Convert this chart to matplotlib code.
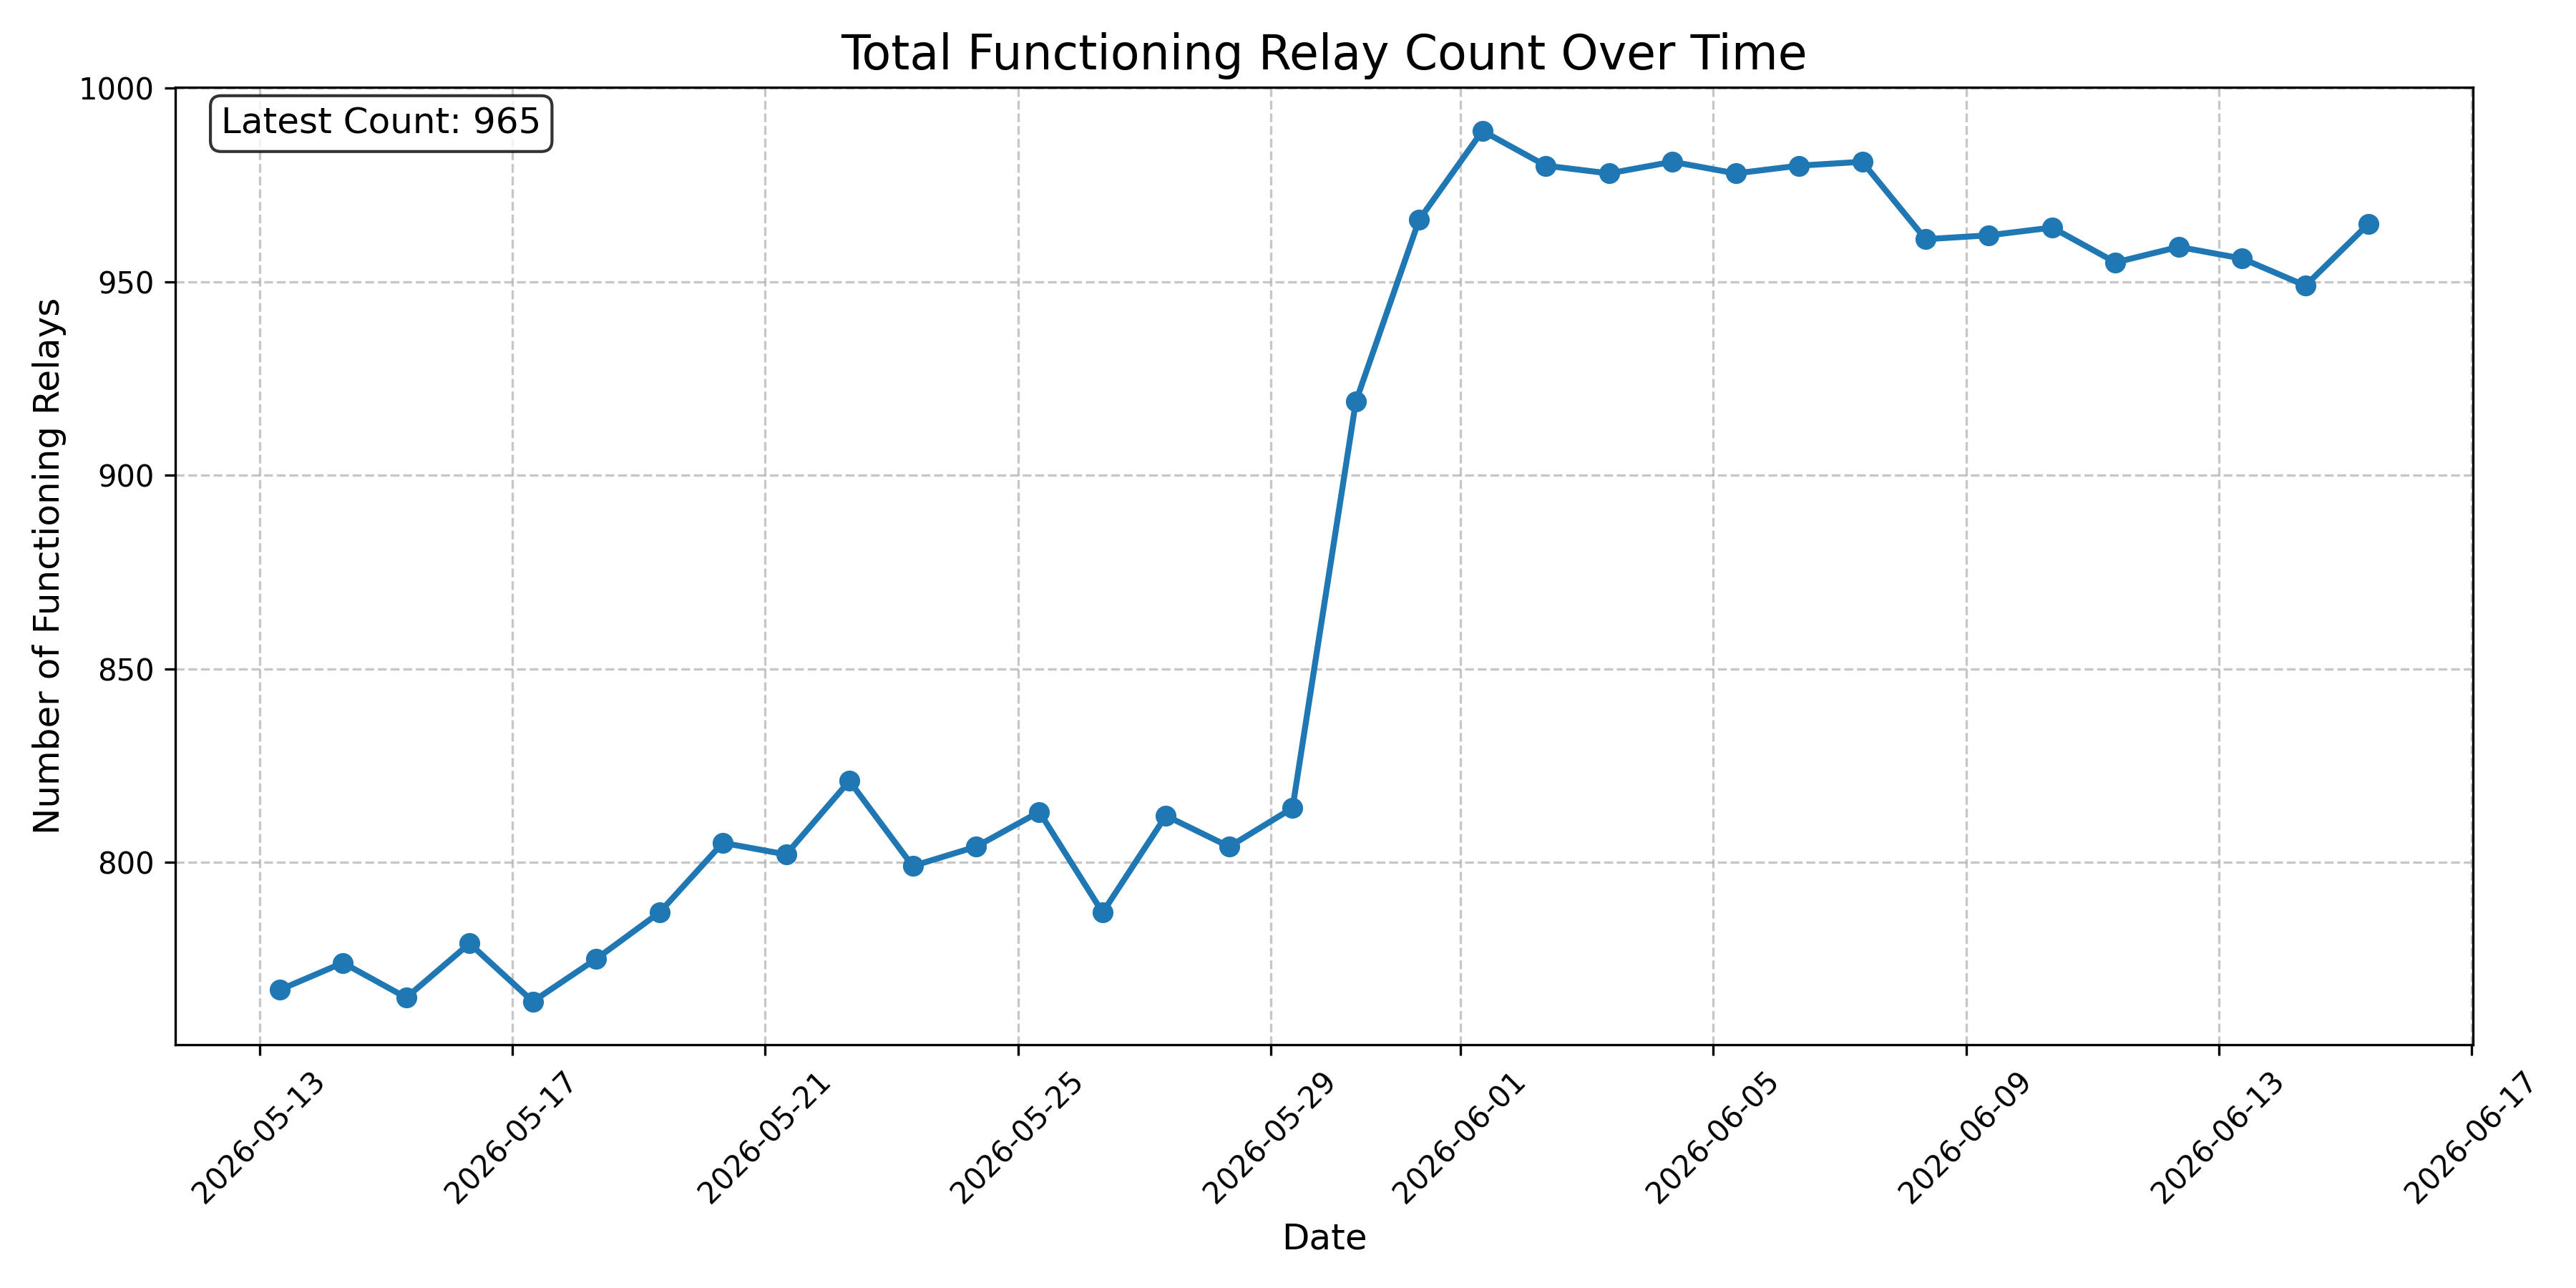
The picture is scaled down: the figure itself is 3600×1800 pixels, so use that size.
import matplotlib
matplotlib.use("Agg")
import matplotlib.pyplot as plt
import pandas as pd

dates = pd.date_range(start="2026-05-13 07:40", end="2026-06-15 08:50", periods=34)
counts = [767, 774, 765, 779, 764, 775, 787, 805, 802, 821,
          799, 804, 813, 787, 812, 804, 814, 919, 966, 989,
          980, 978, 981, 978, 980, 981, 961, 962, 964, 955,
          959, 956, 949, 965]

fig, ax = plt.subplots(figsize=(12, 6), dpi=300)
ax.plot(dates, counts, marker="o", linewidth=2, color="#1f77b4")
ax.set_title("Total Functioning Relay Count Over Time", fontsize=16)
ax.set_xlabel("Date", fontsize=12)
ax.set_ylabel("Number of Functioning Relays", fontsize=12)
ax.grid(True, linestyle="--", alpha=0.7)
plt.setp(ax.get_xticklabels(), rotation=45)
ax.text(0.02, 0.98, f"Latest Count: {counts[-1]}", transform=ax.transAxes,
        fontsize=12, va="top",
        bbox=dict(boxstyle="round", facecolor="white", alpha=0.8))
fig.tight_layout()
fig.savefig("out.png", dpi=300)
